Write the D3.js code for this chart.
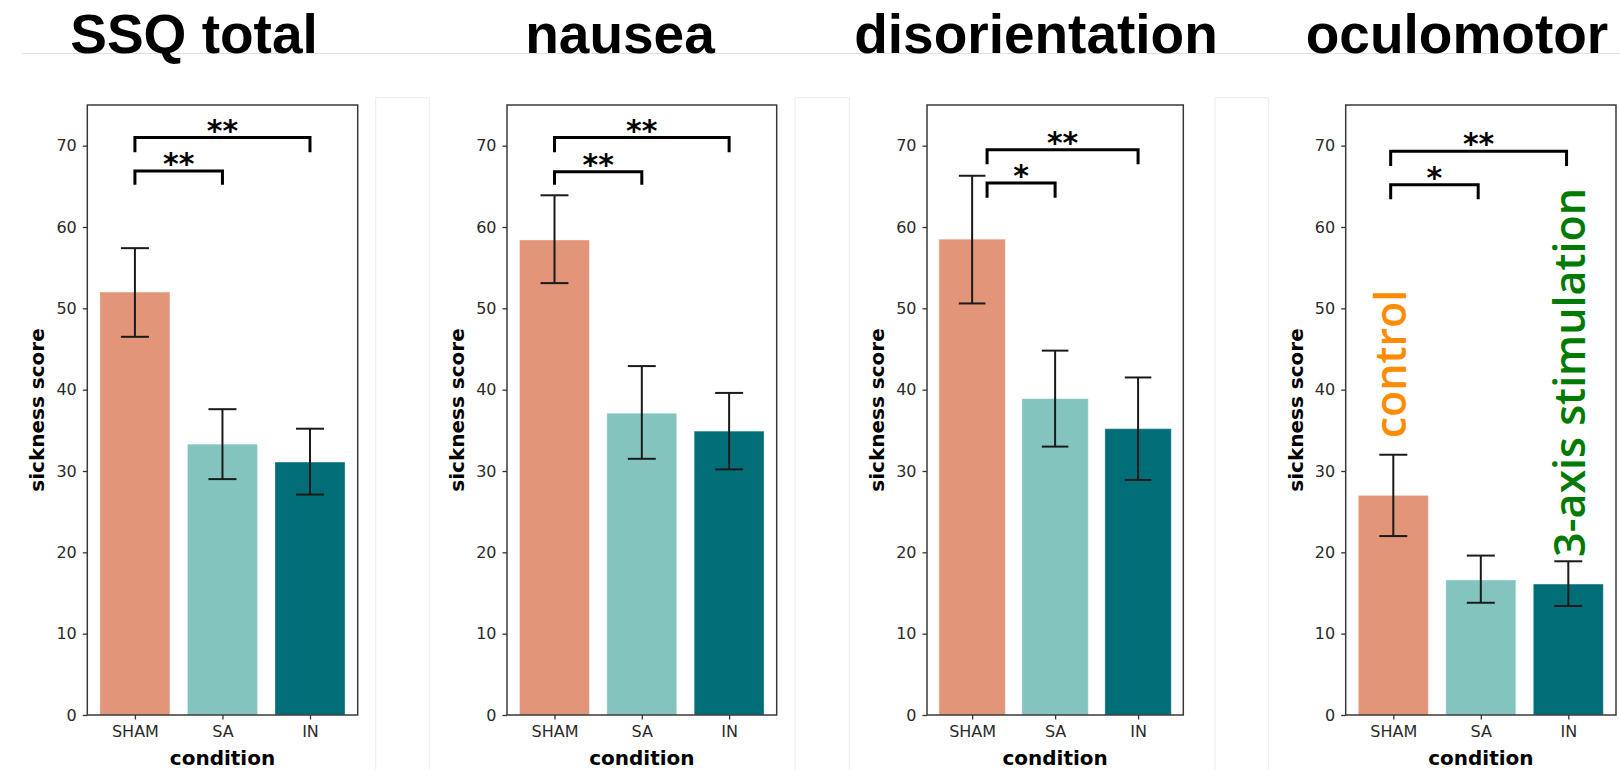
<!DOCTYPE html>
<html>
<head>
<meta charset="utf-8">
<script src="https://cdn.jsdelivr.net/npm/d3@7"></script>
<style>
  body { margin: 0; background: #fff; }
  svg { display: block; }
</style>
</head>
<body>
<div id="chart-area"></div>
<script>
// data
var conditions = ["SHAM", "SA", "IN"];
var panelTitles = ["SSQ total", "nausea", "disorientation", "oculomotor"];
var meanScores = [
    [52.0, 33.3, 31.1],
    [58.4, 37.1, 34.9],
    [58.5, 38.9, 35.2],
    [27.0, 16.6, 16.1]
];
var errLow = [
    [46.5, 29.0, 27.1],
    [53.1, 31.5, 30.2],
    [50.6, 33.0, 28.9],
    [22.0, 13.8, 13.4]
];
var errHigh = [
    [57.4, 37.6, 35.2],
    [63.9, 42.9, 39.6],
    [66.3, 44.8, 41.5],
    [32.0, 19.6, 18.9]
];
var yTicks = [0, 10, 20, 30, 40, 50, 60, 70];
// significance brackets: [from, to, line level, tip level, label]
var sigBrackets = [
    [[0, 2, 71.0, 69.2, "**"], [0, 1, 66.9, 65.2, "**"]],
    [[0, 2, 71.0, 69.2, "**"], [0, 1, 66.8, 65.2, "**"]],
    [[0.18, 2, 69.5, 67.7, "**"], [0.18, 1, 65.4, 63.6, "*"]],
    [[-0.03, 1.98, 69.3, 67.5, "**"], [-0.03, 0.97, 65.2, 63.4, "*"]]
];
var barColors = ["#e29578", "#83c5be", "#006d77"];

// layout
var W = 1620, H = 770;
var panelLeft = [87.3, 507, 927, 1345.7];
var panelRight = [357.7, 776.7, 1183.3, 1616];
var titleX = [194, 620, 1036, 1457];
var plotTop = 105, plotBottom = 715;

var svg = d3.select("#chart-area").append("svg")
    .attr("width", W)
    .attr("height", H);

// faint slide artefacts: rule under titles and empty frames between panels
svg.append("line")
    .attr("x1", 22).attr("x2", W)
    .attr("y1", 53.5).attr("y2", 53.5)
    .attr("stroke", "#e2e2e2").attr("stroke-width", 1);
[[375.7, 429.3], [795, 849.3], [1215, 1268.3]].forEach(function(f){
    svg.append("rect")
        .attr("x", f[0]).attr("y", 97.7)
        .attr("width", f[1] - f[0]).attr("height", H)
        .attr("fill", "none")
        .attr("stroke", "#ebebeb").attr("stroke-width", 1);
});

var y = d3.scaleLinear().domain([0, 75]).range([plotBottom, plotTop]);

panelTitles.forEach(function(title, p){
    var x = d3.scaleLinear()
        .domain([-0.544, 2.545])
        .range([panelLeft[p], panelRight[p]]);
    var unit = x(1) - x(0);
    var g = svg.append("g");

    // title
    svg.append("text")
        .attr("x", titleX[p])
        .attr("y", 53)
        .attr("text-anchor", "middle")
        .attr("font-family", "Liberation Sans, Arial, sans-serif")
        .attr("font-weight", "bold")
        .attr("font-size", 55)
        .attr("fill", "#000")
        .text(title);

    // bars
    g.selectAll("rect.bar").data(meanScores[p]).enter()
        .append("rect")
            .attr("class", "bar")
            .attr("x", function(d, i){ return x(i - 0.4); })
            .attr("width", unit * 0.8)
            .attr("y", function(d){ return y(d); })
            .attr("height", function(d){ return y(0) - y(d); })
            .attr("fill", function(d, i){ return barColors[i]; })
            .attr("stroke", "#ffffff")
            .attr("stroke-opacity", 0.35)
            .attr("stroke-width", 1);

    // error bars
    var eb = g.selectAll("g.err").data(meanScores[p]).enter()
        .append("g").attr("class", "err")
        .attr("stroke", "#1a1a1a")
        .attr("stroke-width", 2);
    eb.append("line")
        .attr("x1", function(d, i){ return x(i); })
        .attr("x2", function(d, i){ return x(i); })
        .attr("y1", function(d, i){ return y(errLow[p][i]); })
        .attr("y2", function(d, i){ return y(errHigh[p][i]); });
    [errLow, errHigh].forEach(function(arr){
        eb.append("line")
            .attr("x1", function(d, i){ return x(i - 0.16); })
            .attr("x2", function(d, i){ return x(i + 0.16); })
            .attr("y1", function(d, i){ return y(arr[p][i]); })
            .attr("y2", function(d, i){ return y(arr[p][i]); });
    });

    // frame
    g.append("rect")
        .attr("x", panelLeft[p]).attr("y", plotTop)
        .attr("width", panelRight[p] - panelLeft[p])
        .attr("height", plotBottom - plotTop)
        .attr("fill", "none")
        .attr("stroke", "#3a3a3a")
        .attr("stroke-width", 1.5);

    // axes
    var yAxis = d3.axisLeft(y).tickValues(yTicks).tickSize(4.5).tickPadding(6);
    var ay = g.append("g")
        .attr("transform", "translate(" + panelLeft[p] + ",0)")
        .call(yAxis);
    var xAxis = d3.axisBottom(x).tickValues([0, 1, 2])
        .tickFormat(function(d){ return conditions[d]; })
        .tickSize(4.5).tickPadding(6);
    var ax = g.append("g")
        .attr("transform", "translate(0," + plotBottom + ")")
        .call(xAxis);
    [ay, ax].forEach(function(a){
        a.select(".domain").remove();
        a.selectAll("line").attr("stroke", "#333").attr("stroke-width", 1.3);
        a.selectAll("text")
            .attr("font-family", "DejaVu Sans, sans-serif")
            .attr("font-size", 16)
            .attr("fill", "#2a2a2a");
    });

    // axis labels
    g.append("text")
        .attr("x", (panelLeft[p] + panelRight[p]) / 2)
        .attr("y", 765)
        .attr("text-anchor", "middle")
        .attr("font-family", "DejaVu Sans, sans-serif")
        .attr("font-weight", "bold")
        .attr("font-size", 20)
        .text("condition");
    g.append("text")
        .attr("transform", "translate(" + (panelLeft[p] - 43) + "," + ((plotTop + plotBottom) / 2) + ") rotate(-90)")
        .attr("text-anchor", "middle")
        .attr("font-family", "DejaVu Sans, sans-serif")
        .attr("font-weight", "bold")
        .attr("font-size", 20)
        .text("sickness score");

    // significance brackets
    sigBrackets[p].forEach(function(b){
        var path = d3.path();
        path.moveTo(x(b[0]), y(b[3]));
        path.lineTo(x(b[0]), y(b[2]));
        path.lineTo(x(b[1]), y(b[2]));
        path.lineTo(x(b[1]), y(b[3]));
        g.append("path")
            .attr("d", path.toString())
            .attr("fill", "none")
            .attr("stroke", "#000")
            .attr("stroke-width", 3);
        g.append("text")
            .attr("x", (x(b[0]) + x(b[1])) / 2)
            .attr("y", y(b[2]) + 3)
            .attr("text-anchor", "middle")
            .attr("font-family", "DejaVu Sans, sans-serif")
            .attr("font-weight", "bold")
            .attr("font-size", 30)
            .text(b[4]);
    });
});

// legend-like notes drawn in the last panel
var notes = [
    { text: "control", color: "#ff8c00", bx: 1405.7, cy: 364 },
    { text: "3-axis stimulation", color: "#007a00", bx: 1585, cy: 372.5 }
];
svg.selectAll("text.note").data(notes).enter()
    .append("text")
        .attr("class", "note")
        .attr("transform", function(d){ return "translate(" + d.bx + "," + d.cy + ") rotate(-90)"; })
        .attr("text-anchor", "middle")
        .attr("font-family", "Open Sans, Noto Sans, sans-serif")
        .attr("font-weight", 600)
        .attr("font-size", 43)
        .attr("fill", function(d){ return d.color; })
        .text(function(d){ return d.text; });
</script>
</body>
</html>
